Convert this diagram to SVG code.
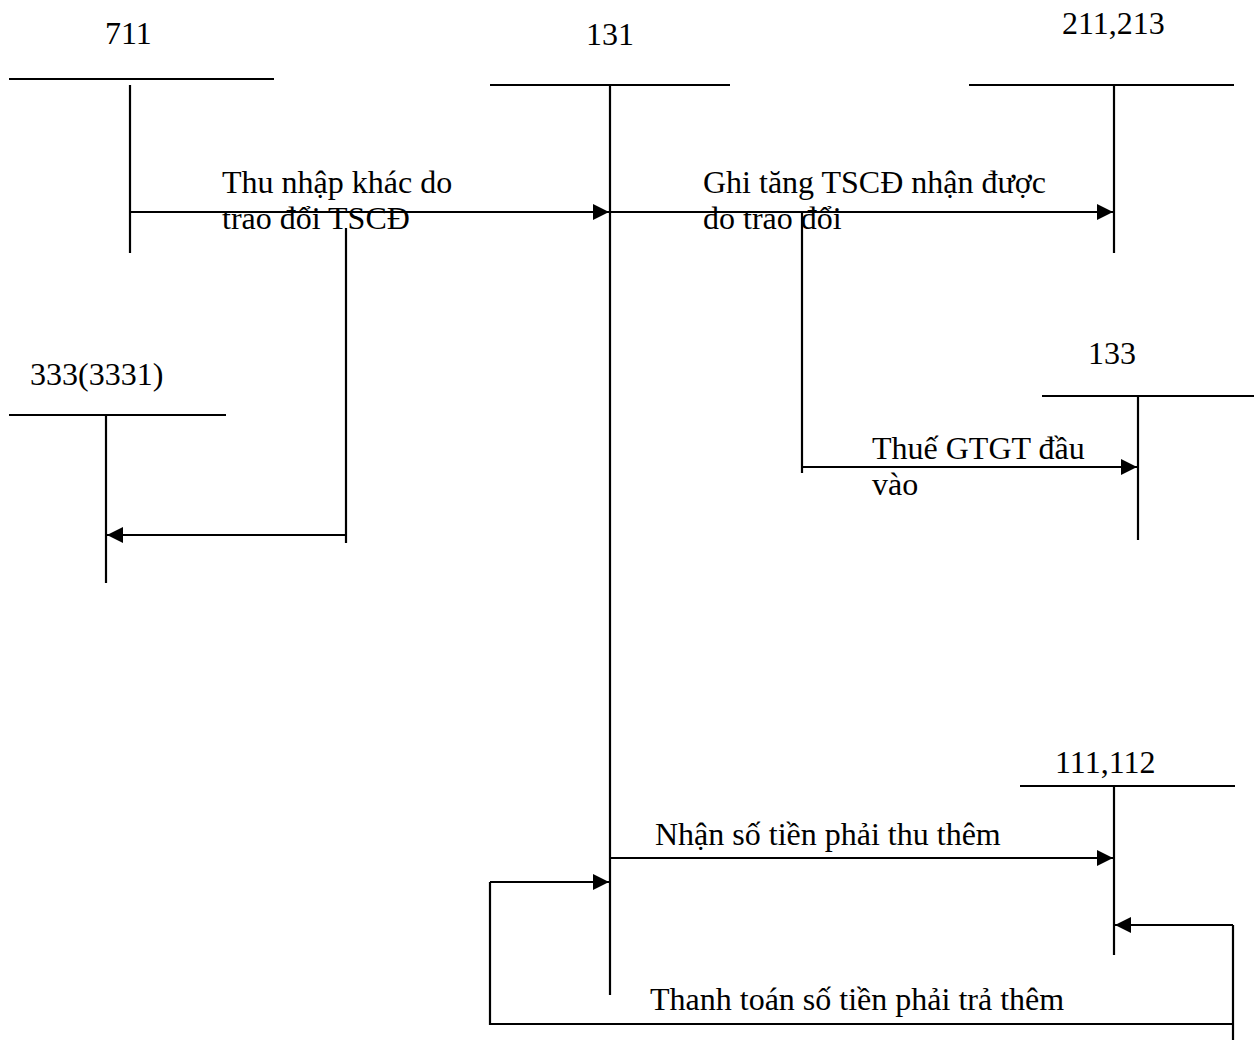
<svg xmlns="http://www.w3.org/2000/svg" width="1254" height="1043" viewBox="0 0 1254 1043">
<defs>
<marker id="ah" markerUnits="userSpaceOnUse" markerWidth="17" markerHeight="16" refX="16" refY="8" orient="auto">
<path d="M0,0 L16,8 L0,16 Z" fill="#000"/>
</marker>
<style>
text{font-family:"Liberation Serif","Times New Roman",serif;font-size:32px;fill:#000}
line,polyline{stroke:#000;stroke-width:2.2;fill:none}
</style>
</defs>
<rect width="1254" height="1043" fill="#fff"/>
<g id="acc711">
<text x="105" y="44">711</text>
<line x1="9" y1="79" x2="274" y2="79"/>
<line x1="130" y1="85" x2="130" y2="253"/>
</g>
<g id="acc131">
<text x="586" y="45">131</text>
<line x1="490" y1="85" x2="730" y2="85"/>
<line x1="610" y1="85" x2="610" y2="995"/>
</g>
<g id="acc211">
<text x="1062" y="34">211,213</text>
<line x1="969" y1="85" x2="1234" y2="85"/>
<line x1="1114" y1="85" x2="1114" y2="253"/>
</g>
<g id="acc333">
<text x="30" y="385">333(3331)</text>
<line x1="9" y1="415" x2="226" y2="415"/>
<line x1="106" y1="415" x2="106" y2="583"/>
</g>
<g id="acc133">
<text x="1088" y="364">133</text>
<line x1="1042" y1="396" x2="1254" y2="396"/>
<line x1="1138" y1="396" x2="1138" y2="540"/>
</g>
<g id="acc111">
<text x="1055" y="773">111,112</text>
<line x1="1020" y1="786" x2="1235" y2="786"/>
<line x1="1114" y1="786" x2="1114" y2="955"/>
</g>
<g id="connectors">
<line x1="130" y1="212" x2="609" y2="212" marker-end="url(#ah)"/>
<polyline points="346,228 346,543"/>
<line x1="346" y1="535" x2="107" y2="535" marker-end="url(#ah)"/>
<line x1="610" y1="212" x2="1113" y2="212" marker-end="url(#ah)"/>
<polyline points="802,212 802,473"/>
<line x1="802" y1="467" x2="1137" y2="467" marker-end="url(#ah)"/>
<line x1="610" y1="858" x2="1113" y2="858" marker-end="url(#ah)"/>
<polyline points="1233,1040 1233,925"/>
<line x1="1233" y1="925" x2="1115" y2="925" marker-end="url(#ah)"/>
<polyline points="1233,1024 490,1024 490,882"/>
<line x1="490" y1="882" x2="609" y2="882" marker-end="url(#ah)"/>
</g>
<g id="labels">
<text x="222" y="193">Thu nhập khác do</text>
<text x="222" y="229">trao đổi TSCĐ</text>
<text x="703" y="193">Ghi tăng TSCĐ nhận được</text>
<text x="703" y="229">do trao đổi</text>
<text x="872" y="459">Thuế GTGT đầu</text>
<text x="872" y="495">vào</text>
<text x="655" y="845">Nhận số tiền phải thu thêm</text>
<text x="650" y="1010">Thanh toán số tiền phải trả thêm</text>
</g>
</svg>
